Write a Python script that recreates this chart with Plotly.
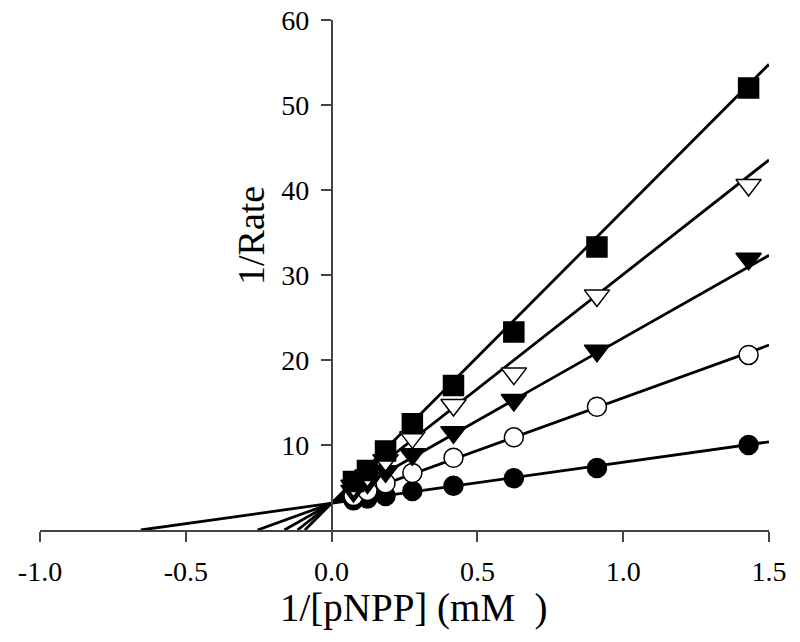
import plotly.graph_objects as go

# ---- data ----
x_inv = [0.075, 0.123, 0.185, 0.277, 0.418, 0.625, 0.91, 1.43]

y_filled_circle = [3.5, 3.7, 4.0, 4.6, 5.2, 6.1, 7.3, 10.0]
y_open_circle = [4.0, 4.6, 5.5, 6.7, 8.5, 10.9, 14.5, 20.6]
y_filled_tri = [4.6, 5.6, 6.9, 8.9, 11.5, 15.3, 21.1, 31.9]
y_open_tri = [5.2, 6.4, 8.2, 10.9, 14.7, 18.4, 27.6, 40.6]
y_square = [5.7, 7.0, 9.3, 12.5, 17.0, 23.3, 33.3, 52.0]

# fitted lines: common y-intercept and individual x-intercepts
y_intercept = 3.15
x_intercepts = [-0.654, -0.254, -0.162, -0.117, -0.0915]
x_end = 1.5

x_ticks = [-1.0, -0.5, 0.0, 0.5, 1.0, 1.5]
x_tick_text = ["-1.0", "-0.5", "0.0", "0.5", "1.0", "1.5"]
y_ticks = [10, 20, 30, 40, 50, 60]

series = [
    (y_filled_circle, "circle", "black", 19),
    (y_open_circle, "circle", "white", 19),
    (y_filled_tri, "triangle-down", "black", 22),
    (y_open_tri, "triangle-down", "white", 22),
    (y_square, "square", "black", 20),
]

FONT = "Liberation Serif, Times New Roman, serif"

fig = go.Figure()

# regression lines
for xi in x_intercepts:
    slope = -y_intercept / xi
    xs = [xi, x_end]
    ys = [y_intercept + slope * x for x in xs]
    fig.add_trace(go.Scatter(x=xs, y=ys, mode="lines",
                             line=dict(color="black", width=2.8),
                             showlegend=False, hoverinfo="skip"))

# data markers
for ys, sym, fill, size in series:
    fig.add_trace(go.Scatter(x=x_inv, y=ys, mode="markers",
                             marker=dict(symbol=sym, size=size, color=fill,
                                         line=dict(color="black", width=1.5)),
                             showlegend=False))

fig.update_layout(
    width=800, height=642,
    margin=dict(l=32, r=39, t=12, b=120),
    plot_bgcolor="white", paper_bgcolor="white",
    font=dict(family=FONT, color="black"),
    xaxis=dict(range=[-1.0, 1.5], tickvals=x_ticks, ticktext=x_tick_text,
               showgrid=False, zeroline=False, showline=True, automargin=False,
               linecolor="#444", linewidth=1.5,
               ticks="outside", ticklen=10, tickwidth=1.5, tickcolor="#444",
               tickfont=dict(size=28, family=FONT, color="black"),
               ticklabelstandoff=6, ticklabeloverflow="allow"),
    yaxis=dict(range=[0, 60], tickvals=y_ticks,
               showgrid=False, zeroline=False, showline=True, automargin=False,
               linecolor="#444", linewidth=1.5,
               anchor="free", position=0.4, side="left",
               ticks="outside", ticklen=10, tickwidth=1.5, tickcolor="#444",
               tickfont=dict(size=28, family=FONT, color="black"),
               ticklabelstandoff=6, ticklabeloverflow="allow"),
    annotations=[
        dict(text="1/[pNPP] (mM  )", xref="paper", yref="paper",
             x=(414 - 40) / 729, y=-78 / 510, xanchor="center", yanchor="middle",
             showarrow=False, font=dict(size=39, family=FONT, color="black")),
        dict(text="1/Rate", xref="paper", yref="paper",
             x=(251 - 40) / 729, y=(530 - 235) / 510, xanchor="center", yanchor="middle",
             textangle=-90, showarrow=False,
             font=dict(size=38, family=FONT, color="black")),
    ],
)

fig.write_html("out.html")
